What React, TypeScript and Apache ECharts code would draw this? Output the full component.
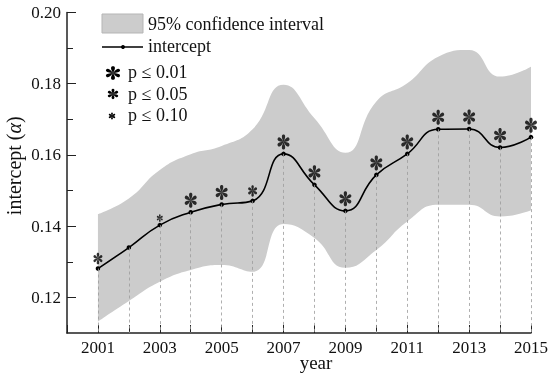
import React, { useEffect, useRef } from "react";
import * as echarts from "echarts";

const years = [2001, 2002, 2003, 2004, 2005, 2006, 2007, 2008, 2009, 2010, 2011, 2012, 2013, 2014, 2015];
const intercept = [0.1281, 0.134, 0.1403, 0.1439, 0.1461, 0.1471, 0.1603, 0.1516, 0.1443, 0.1544, 0.1603, 0.1672, 0.1673, 0.1621, 0.165];
const upperCI = [0.1434, 0.1478, 0.1558, 0.1602, 0.1625, 0.1672, 0.1797, 0.1703, 0.1606, 0.175, 0.1801, 0.1876, 0.1895, 0.182, 0.1848];
const lowerCI = [0.1132, 0.119, 0.1244, 0.1277, 0.1291, 0.1272, 0.1406, 0.1367, 0.1283, 0.1333, 0.1413, 0.146, 0.146, 0.1427, 0.1445];
// significance level per year (null = not significant)
const pLevel: (number | null)[] = [0.05, null, 0.1, 0.01, 0.01, 0.05, 0.01, 0.01, 0.01, 0.01, 0.01, 0.01, 0.01, 0.01, 0.01];
const axisStartYear = 2000;
const yMajorTicks = [0.12, 0.14, 0.16, 0.18, 0.2];
const yMinorTicks = [0.13, 0.15, 0.17, 0.19];

const categories = [String(axisStartYear), ...years.map(String)];
const pad = (arr: number[]) => ["-", ...arr] as any[];

function buildAsterisk(): string {
  const petal: [number, number][][] = [
    [[0, 0]],
    [[-1.4, -3]],
    [[-3.2, -7], [-2.8, -10], [0, -10]],
    [[2.8, -10], [3.2, -7], [1.4, -3]],
  ];
  let d = "";
  for (let k = 0; k < 6; k++) {
    const a = (k * Math.PI) / 3;
    const rot = (p: [number, number]) => {
      const x = p[0] * Math.cos(a) - p[1] * Math.sin(a);
      const y = p[0] * Math.sin(a) + p[1] * Math.cos(a);
      return x.toFixed(2) + " " + y.toFixed(2);
    };
    d += "M" + rot(petal[0][0]) + " L" + rot(petal[1][0]) + " C" + petal[2].map(rot).join(" ") + " C" + petal[3].map(rot).join(" ") + " Z ";
  }
  return d;
}
const asteriskD = buildAsterisk();

const FONT = "'Liberation Serif', 'Times New Roman', serif";

export default function App() {
  const ref = useRef<HTMLDivElement>(null);
  useEffect(() => {
    if (!ref.current) return;
    try {
      echarts.graphic.registerShape("asterisk", echarts.graphic.extendPath(asteriskD, {}) as any);
    } catch (e) {}
    const chart = echarts.init(ref.current, null, { renderer: "svg" });
    const sigSeries = (level: number, size: [number, number], offset: number) => ({
      type: "scatter",
      symbol: "path://" + asteriskD,
      symbolKeepAspect: false,
      symbolSize: size,
      symbolOffset: [0, offset],
      itemStyle: { color: "#000" },
      z: 5,
      silent: true,
      data: years.map((y, i) => (pLevel[i] === level ? [String(y), intercept[i]] : null)).filter((d) => d !== null),
    });
    const option: any = {
      animation: false,
      textStyle: { fontFamily: FONT },
      grid: { left: 67, right: 19, top: 12.5, bottom: 46, containLabel: false, outerBoundsMode: "none" },
      xAxis: {
        type: "category",
        data: categories,
        boundaryGap: false,
        name: "year",
        nameLocation: "middle",
        nameGap: 20,
        nameMoveOverlap: false,
        nameTextStyle: { fontFamily: FONT, fontSize: 19, color: "#111", padding: [0, 0, 0, 34] },
        axisLine: { lineStyle: { color: "#222", width: 1.5 } },
        axisTick: { inside: true, length: 8, interval: 0, lineStyle: { color: "#222", width: 1 } },
        axisLabel: {
          interval: (idx: number) => idx % 2 === 1,
          fontFamily: FONT,
          fontSize: 17,
          color: "#111",
          margin: 6,
        },
        splitLine: { show: false },
      },
      yAxis: [
        {
          type: "value",
          min: 0.11,
          max: 0.2,
          name: "intercept ({i|α})",
          nameLocation: "middle",
          nameGap: 43,
          nameMoveOverlap: false,
          nameTextStyle: {
            fontFamily: FONT,
            fontSize: 20,
            color: "#111",
            padding: [0, 0, 0, 14],
            rich: { i: { fontFamily: FONT, fontSize: 20, fontStyle: "italic", color: "#111" } },
          },
          axisLine: { show: true, lineStyle: { color: "#222", width: 1.5 } },
          axisTick: { show: true, inside: true, length: 9, customValues: yMajorTicks, lineStyle: { color: "#222", width: 1 } },
          axisLabel: {
            customValues: yMajorTicks,
            formatter: (v: number) => v.toFixed(2),
            fontFamily: FONT,
            fontSize: 17,
            color: "#111",
            margin: 6,
          },
          splitLine: { show: false },
        },
        {
          type: "value",
          min: 0.11,
          max: 0.2,
          position: "left",
          axisLine: { show: false },
          axisTick: { show: true, inside: true, length: 6, customValues: yMinorTicks, lineStyle: { color: "#222", width: 1 } },
          axisLabel: { show: false },
          splitLine: { show: false },
        },
      ],
      series: [
        {
          type: "line",
          name: "lower",
          stack: "ci",
          smooth: true,
          symbol: "none",
          lineStyle: { width: 0, opacity: 0 },
          silent: true,
          z: 1,
          data: pad(lowerCI),
        },
        {
          type: "line",
          name: "95% confidence interval",
          stack: "ci",
          smooth: true,
          symbol: "none",
          lineStyle: { width: 0, opacity: 0 },
          areaStyle: { color: "#cccccc", opacity: 1 },
          silent: true,
          z: 1,
          data: pad(upperCI.map((u, i) => u - lowerCI[i])),
        },
        {
          type: "line",
          name: "intercept",
          smooth: true,
          symbol: "circle",
          symbolSize: 4.5,
          itemStyle: { color: "#000" },
          lineStyle: { color: "#000", width: 1.6 },
          z: 4,
          data: pad(intercept),
          markLine: {
            silent: true,
            symbol: ["none", "none"],
            label: { show: false },
            lineStyle: { type: [3, 3], color: "#9a9a9a", width: 0.8 },
            data: years.map((y, i) => [{ coord: [String(y), intercept[i]] }, { coord: [String(y), 0.11] }]),
          },
        },
        sigSeries(0.01, [12, 15], -12),
        sigSeries(0.05, [9, 11.5], -10),
        sigSeries(0.1, [6, 7.5], -7),
      ],
      graphic: [
        { type: "rect", shape: { x: 102, y: 14, width: 41, height: 19 }, style: { fill: "#cccccc", stroke: "#b5b5b5", lineWidth: 1 } },
        { type: "text", x: 148, y: 24, style: { text: "95% confidence interval", font: "18px " + FONT, fill: "#111", verticalAlign: "middle" } },
        { type: "line", shape: { x1: 102, y1: 47, x2: 143, y2: 47 }, style: { stroke: "#000", lineWidth: 1.6 } },
        { type: "circle", shape: { cx: 123, cy: 47, r: 2 }, style: { fill: "#000" } },
        { type: "text", x: 148, y: 46, style: { text: "intercept", font: "18px " + FONT, fill: "#111", verticalAlign: "middle" } },
        { type: "asterisk", x: 113, y: 73, scaleX: 0.78, scaleY: 0.68, style: { fill: "#000" } },
        { type: "text", x: 128, y: 72, style: { text: "p ≤ 0.01", font: "18px " + FONT, fill: "#111", verticalAlign: "middle" } },
        { type: "asterisk", x: 113, y: 94, scaleX: 0.58, scaleY: 0.52, style: { fill: "#000" } },
        { type: "text", x: 128, y: 94, style: { text: "p ≤ 0.05", font: "18px " + FONT, fill: "#111", verticalAlign: "middle" } },
        { type: "asterisk", x: 112, y: 116, scaleX: 0.36, scaleY: 0.36, style: { fill: "#000" } },
        { type: "text", x: 128, y: 115, style: { text: "p ≤ 0.10", font: "18px " + FONT, fill: "#111", verticalAlign: "middle" } },
      ],
    };
    chart.setOption(option);
    return () => chart.dispose();
  }, []);
  return <div ref={ref} style={{ position: "fixed", left: 0, top: 0, width: 550, height: 379 }} />;
}
